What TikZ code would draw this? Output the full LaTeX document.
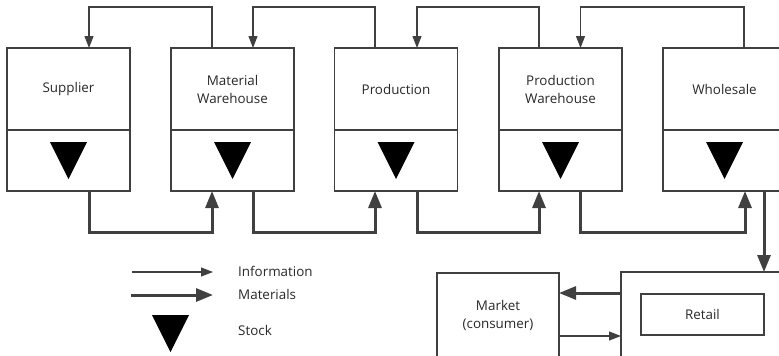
\documentclass[tikz,border=0pt]{standalone}
\usepackage{fontspec}
\setmainfont{Open Sans}
\usetikzlibrary{arrows.meta,calc,positioning}
\definecolor{chainline}{RGB}{64,64,64}
\definecolor{chaintext}{RGB}{40,40,40}
\tikzset{
 stage/.style={draw=chainline,line width=1.5pt,minimum width=123pt,minimum height=82pt,
  inner sep=0pt,outer sep=0pt,align=center,text=chaintext},
 stockpart/.style={stage,minimum height=61pt},
 info/.style={draw=chainline,line width=1.2pt,-{Triangle[length=12pt,width=9pt]}},
 mat/.style={draw=chainline,line width=3pt,-{Triangle[length=17pt,width=13pt]}},
 stockmark/.style={fill=black},
 legendtext/.style={text=chaintext,anchor=west,inner sep=0pt}
}

\begin{document}
\begin{tikzpicture}[x=1pt,y=-1pt,font=\fontsize{13.4}{18}\selectfont,line join=miter]
 \clip (0,0) rectangle (779,356);
 % stages of the chain
 \node[stage] (sup) at (68.5,89) {Supplier};
 \node[stockpart,below=0pt of sup] (sup-st) {};
 \node[stage] (mwh) at (232.5,89) {Material\\Warehouse};
 \node[stockpart,below=0pt of mwh] (mwh-st) {};
 \node[stage] (prd) at (396,89) {Production};
 \node[stockpart,below=0pt of prd] (prd-st) {};
 \node[stage] (pwh) at (560.5,89) {Production\\Warehouse};
 \node[stockpart,below=0pt of pwh] (pwh-st) {};
 \node[stage] (whl) at (724.5,89) {Wholesale};
 \node[stockpart,below=0pt of whl] (whl-st) {};
 \foreach \s in {sup,mwh,prd,pwh,whl}
  \fill[stockmark] ($(\s-st)+(-18.5,-18.5)$) -- ++(37,0) -- ++(-18.5,37) -- cycle;

 % information flow, upstream
 \draw[info] ($(mwh.north)+(-20.5,0)$) -- ++(0,-41) -| ($(sup.north)+(20.5,0)$);
 \draw[info] ($(prd.north)+(-21,0)$) -- ++(0,-41) -| ($(mwh.north)+(20.5,0)$);
 \draw[info] ($(pwh.north)+(-21.5,0)$) -- ++(0,-41) -| ($(prd.north)+(21,0)$);
 \draw[info] ($(whl.north)+(19.5,0)$) -- ++(0,-41) -| ($(pwh.north)+(20,0)$);

 % material flow, downstream
 \draw[mat] ($(sup-st.south)+(20.5,0)$) -- ++(0,41) -| ($(mwh-st.south)+(-20.5,0)$);
 \draw[mat] ($(mwh-st.south)+(20.5,0)$) -- ++(0,41) -| ($(prd-st.south)+(-21,0)$);
 \draw[mat] ($(prd-st.south)+(21,0)$) -- ++(0,41) -| ($(pwh-st.south)+(-21.5,0)$);
 \draw[mat] ($(pwh-st.south)+(20,0)$) -- ++(0,41) -| ($(whl-st.south)+(20.5,0)$);

 % retail and market
 \node[draw=chainline,line width=1.5pt,minimum width=179pt,minimum height=86pt,
  inner sep=0pt,outer sep=0pt] (rtl) at (710.5,315) {};
 \node[stage,minimum height=41pt] (rtl-in) at (702.5,314.5) {Retail};
 \node[stage,minimum width=122pt,minimum height=85pt] (mkt) at (498,315.5)
  {Market\\(consumer)};
 \draw[mat] ($(whl-st.south)+(39.5,0)$) coordinate (whl-out) -- (whl-out |- rtl.north);
 \draw[mat] ($(rtl.west)+(0,-22)$) coordinate (rtl-m) -- (rtl-m -| mkt.east);
 \draw[info] ($(mkt.east)+(0,20.5)$) coordinate (mkt-i) -- (mkt-i -| rtl.west);

 % legend
 \coordinate (lg-info-a) at (132,272);
 \coordinate (lg-info-b) at (213,272);
 \coordinate (lg-mat-a) at (131,295);
 \coordinate (lg-mat-b) at (213,295);
 \coordinate (lg-stock) at (170.5,333.5);
 \draw[info] (lg-info-a) -- (lg-info-b);
 \draw[mat] (lg-mat-a) -- (lg-mat-b);
 \fill[stockmark] ($(lg-stock)+(-18.5,-18.5)$) -- ++(37,0) -- ++(-18.5,37) -- cycle;
 \node[legendtext] (lg-info-t) at (238,271) {Information};
 \node[legendtext] (lg-mat-t) at (238,294) {Materials};
 \node[legendtext] (lg-stock-t) at (238,330) {Stock};
\end{tikzpicture}
\end{document}
